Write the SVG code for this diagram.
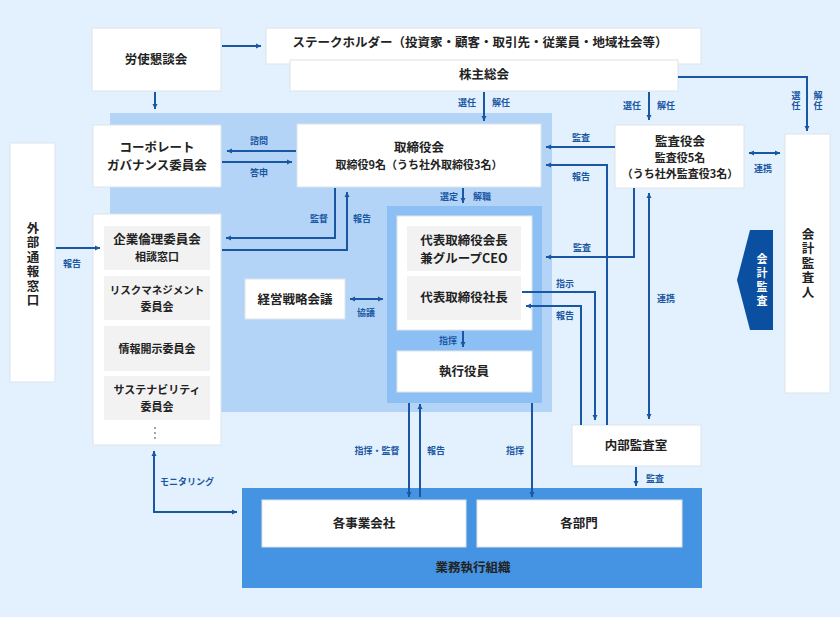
<svg xmlns="http://www.w3.org/2000/svg" width="840" height="617" viewBox="0 0 840 617">
<defs>
<marker id="ah" markerWidth="6" markerHeight="6" refX="5" refY="3" orient="auto-start-reverse" markerUnits="userSpaceOnUse"><path d="M0,0.5 L5,3 L0,5.5 Z" fill="#1a57a3"/></marker>
</defs>
<style>
text{font-family:"Noto Sans CJK JP","Noto Sans",sans-serif;fill:#222;text-anchor:middle;}
.n{fill:#fff;stroke:#dde3ea;stroke-width:1}
.g{fill:#f2f2f2}
.t{font-size:12.5px;font-weight:700}
.s{font-size:11px;font-weight:700}
.l{font-size:9px;fill:#1a57a3;font-weight:700}
.v{writing-mode:vertical-rl;letter-spacing:2px}
.c{fill:none;stroke:#1a57a3;stroke-width:2}
.a{marker-end:url(#ah)}
.b{marker-start:url(#ah);marker-end:url(#ah)}
</style>
<rect width="840" height="617" fill="#e3f0fd"/>
<rect x="110" y="113" width="442" height="299" fill="#b3d4f7"/>
<rect x="387" y="206" width="155" height="197" fill="#8cc0f5"/>
<rect x="242" y="488" width="460" height="100" fill="#4594e3"/>

<g id="roushi"><rect class="n" x="92" y="28" width="129" height="63"/><text class="t" x="156" y="64">労使懇談会</text></g>
<g id="stakeholder"><rect class="n" x="266" y="28" width="435" height="36"/><text class="t" x="480" y="47">ステークホルダー（投資家・顧客・取引先・従業員・地域社会等）</text></g>
<g id="kabunushi"><rect class="n" x="290" y="60" width="388" height="31"/><text class="t" x="484" y="79">株主総会</text></g>
<g id="cg"><rect class="n" x="93" y="125" width="128" height="62"/><text class="t" x="157" y="152">コーポレート</text><text class="t" x="157" y="170">ガバナンス委員会</text></g>
<g id="torishimariyaku"><rect class="n" x="297" y="124" width="244" height="63"/><text class="t" x="419" y="152">取締役会</text><text class="s" x="419" y="169">取締役9名（うち社外取締役3名）</text></g>
<g id="kansayaku"><rect class="n" x="615" y="125" width="129" height="63"/><text class="t" x="680" y="146">監査役会</text><text class="s" x="680" y="162">監査役5名</text><text class="s" x="680" y="178">（うち社外監査役3名）</text></g>
<g id="kaikei"><rect class="n" x="785" y="134" width="45" height="259"/><text class="t v" x="808" y="264">会計監査人</text></g>
<g id="gaibu"><rect class="n" x="10" y="143" width="45" height="239"/><text class="t v" x="33" y="265">外部通報窓口</text></g>
<g id="iinkai"><rect class="n" x="93" y="214" width="128" height="231"/>
<rect class="g" x="104" y="226" width="106" height="44"/><text class="t" x="157" y="244">企業倫理委員会</text><text class="s" x="157" y="261">相談窓口</text>
<rect class="g" x="104" y="276" width="106" height="44"/><text class="s" x="157" y="294" style="font-size:10.5px">リスクマネジメント</text><text class="s" x="157" y="311">委員会</text>
<rect class="g" x="104" y="326" width="106" height="45"/><text class="s" x="157" y="353">情報開示委員会</text>
<rect class="g" x="104" y="376" width="106" height="44"/><text class="s" x="157" y="394">サステナビリティ</text><text class="s" x="157" y="411">委員会</text>
<circle cx="155" cy="428" r="1" fill="#888"/><circle cx="155" cy="433" r="1" fill="#888"/><circle cx="155" cy="438" r="1" fill="#888"/></g>
<g id="keiei"><rect class="n" x="245" y="279" width="100" height="40"/><text class="t" x="295" y="304">経営戦略会議</text></g>
<g id="daihyo"><rect class="n" x="397" y="216" width="135" height="114"/>
<rect class="g" x="407" y="226" width="114" height="45"/><text class="t" x="464" y="245">代表取締役会長</text><text class="t" x="464" y="263">兼グループCEO</text>
<rect class="g" x="407" y="276" width="114" height="44"/><text class="t" x="464" y="302">代表取締役社長</text></g>
<g id="shikko"><rect class="n" x="397" y="351" width="135" height="41"/><text class="t" x="464" y="376">執行役員</text></g>
<g id="naibu"><rect class="n" x="572" y="425" width="129" height="41"/><text class="t" x="636" y="450">内部監査室</text></g>
<g id="jigyo"><rect class="n" x="262" y="500" width="204" height="47"/><text class="t" x="364" y="528">各事業会社</text></g>
<g id="bumon"><rect class="n" x="477" y="500" width="205" height="47"/><text class="t" x="579" y="528">各部門</text></g>
<g id="gyomu"><text class="t" x="473" y="572">業務執行組織</text></g>
<g id="kaikeikansa"><path d="M750,230 L773,230 L773,330 L750,330 L737,280 Z" fill="#0a4fa0"/><text class="s v" x="762" y="281" style="fill:#fff;letter-spacing:3px">会計監査</text></g>

<g id="connectors">
<path class="c a" d="M222,46 H261"/>
<path class="c a" d="M155,92 V109"/>
<path class="c a" d="M484,92 V121"/>
<path class="c a" d="M649,92 V120"/>
<path class="c a" d="M678,77 H807 V131"/>
<path class="c a" d="M296,151 H227"/>
<path class="c a" d="M222,162 H292"/>
<path class="c a" d="M335,188 V238 H226"/>
<path class="c a" d="M222,250 H347 V192"/>
<path class="c a" d="M463,188 V203"/>
<path class="c a" d="M615,147 H546"/>
<path class="c a" d="M607,425 V165 H546"/>
<path class="c a" d="M634,188 V257 H546"/>
<path class="c b" d="M749,153 H780"/>
<path class="c b" d="M649,193 V419"/>
<path class="c a" d="M522,292 H595 V420"/>
<path class="c a" d="M581,425 V306 H526"/>
<path class="c a" d="M463,331 V347"/>
<path class="c b" d="M350,299 H383"/>
<path class="c a" d="M409,403 V497"/>
<path class="c a" d="M420,497 V404"/>
<path class="c a" d="M532,403 V497"/>
<path class="c a" d="M636,467 V486"/>
<path class="c a" d="M56,248 H100"/>
<path class="c b" d="M154,451 V512 H237"/>
</g>
<g id="labels">
<text class="l" x="467" y="106">選任</text><text class="l" x="501" y="106">解任</text>
<text class="l" x="632" y="109">選任</text><text class="l" x="666" y="109">解任</text>
<text class="l v" x="796" y="101" style="letter-spacing:1px">選任</text><text class="l v" x="818" y="101" style="letter-spacing:1px">解任</text>
<text class="l" x="259" y="144">諮問</text><text class="l" x="259" y="176">答申</text>
<text class="l" x="319" y="222">監督</text><text class="l" x="362" y="222">報告</text>
<text class="l" x="449" y="200">選定</text><text class="l" x="482" y="200">解職</text>
<text class="l" x="581" y="141">監査</text><text class="l" x="581" y="180">報告</text>
<text class="l" x="582" y="251">監査</text>
<text class="l" x="763" y="172">連携</text>
<text class="l" x="666" y="302">連携</text>
<text class="l" x="565" y="287">指示</text><text class="l" x="565" y="319">報告</text>
<text class="l" x="448" y="344">指揮</text>
<text class="l" x="366" y="316">協議</text>
<text class="l" x="377" y="454">指揮・監督</text><text class="l" x="436" y="454">報告</text>
<text class="l" x="515" y="454">指揮</text>
<text class="l" x="655" y="482">監査</text>
<text class="l" x="72" y="267">報告</text>
<text class="l" x="187" y="485">モニタリング</text>
</g>
</svg>
